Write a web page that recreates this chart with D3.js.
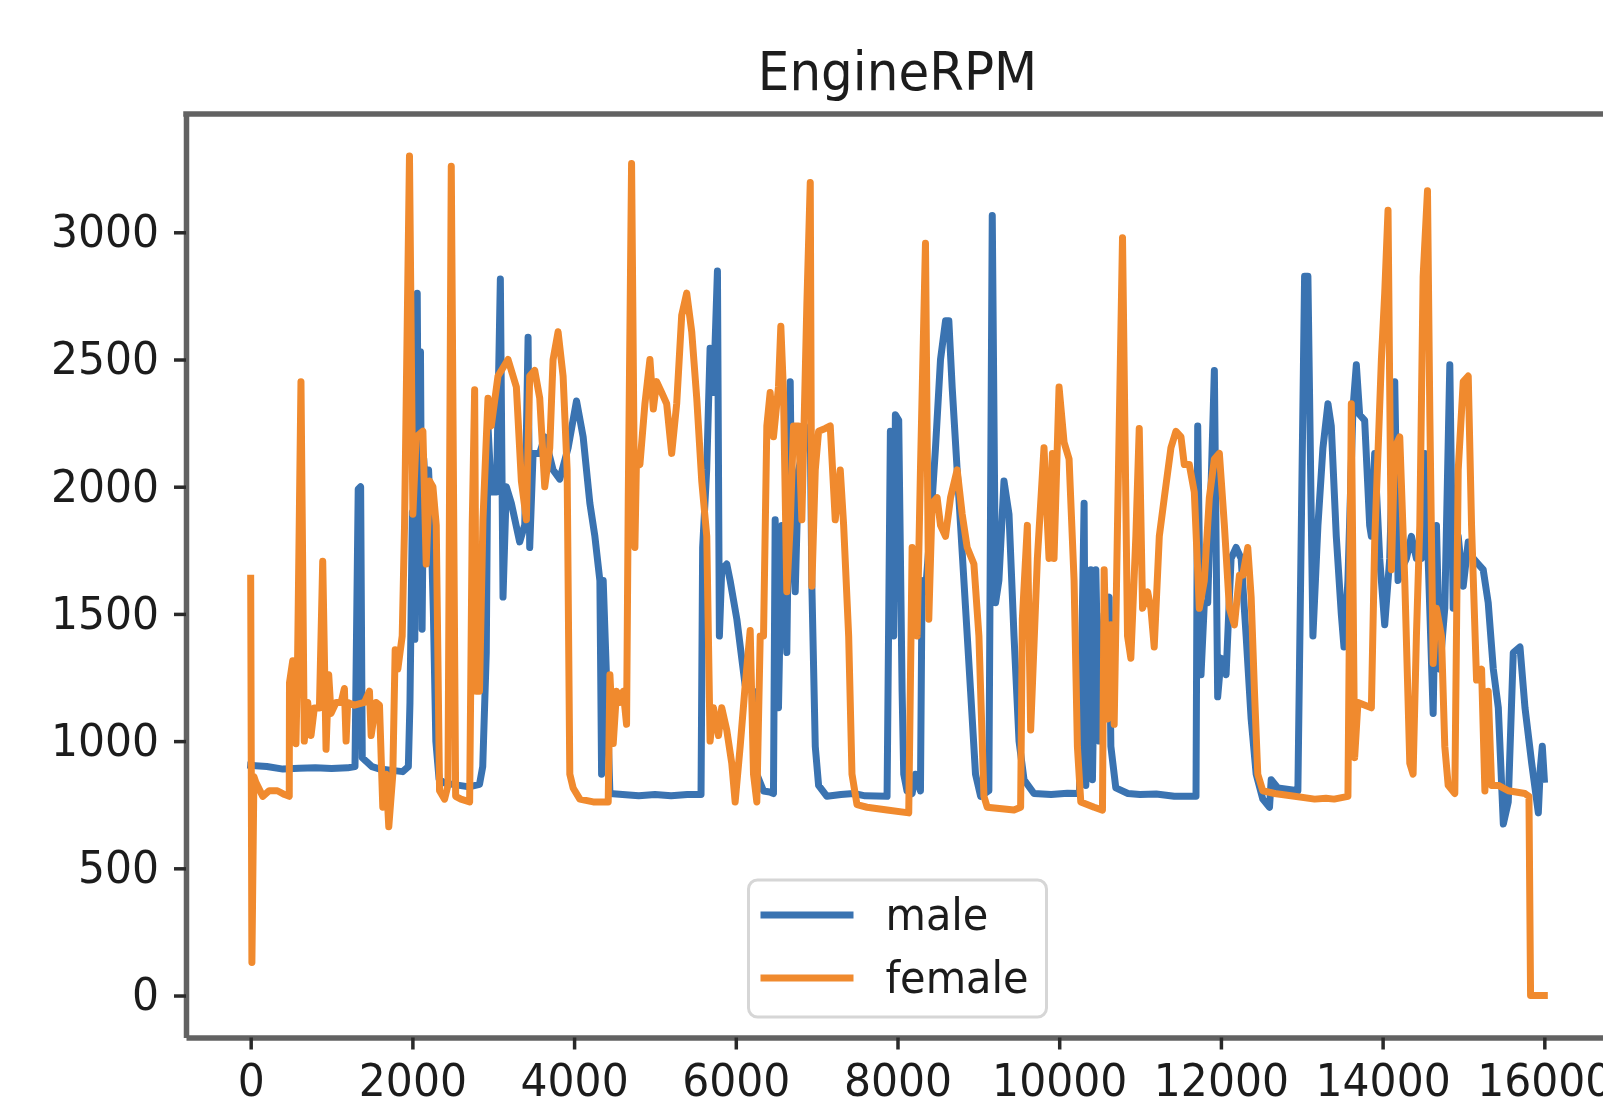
<!DOCTYPE html>
<html>
<head>
<meta charset="utf-8">
<script src="https://cdn.jsdelivr.net/npm/d3@7"></script>
<style>
    body { margin: 0; background: #fff; }
    svg { display: block; font-family: "DejaVu Sans", sans-serif; filter: blur(0.6px); }
</style>
</head>
<body>
<div id="chart"></div>
<script>
// [sample index, engine rpm]
var maleData = [
    [0,905],[200,900],[400,890],[600,893],[800,895],[1000,892],[1200,895],[1290,900],[1330,1990],[1360,2000],
    [1380,935],[1430,920],[1500,900],[1600,890],[1750,885],[1880,880],[1950,900],[1970,1150],[2000,1900],[2030,1400],
    [2060,2760],[2080,1700],[2100,2530],[2120,1440],[2140,2110],[2170,1950],[2200,2066],[2230,1850],[2260,1500],[2290,1000],
    [2330,850],[2400,835],[2500,830],[2600,825],[2700,820],[2830,830],[2870,900],[2914,1348],[2935,2239],[2976,1979],
    [3040,1979],[3088,2816],[3121,1566],[3162,2000],[3224,1935],[3327,1783],[3390,1850],[3431,2587],[3451,1761],[3493,2131],
    [3575,2131],[3637,2196],[3740,2066],[3823,2030],[3926,2153],[4030,2337],[4112,2196],[4195,1935],[4257,1805],[4319,1631],
    [4340,870],[4360,1631],[4400,1260],[4443,794],[4600,790],[4800,785],[5000,790],[5200,785],[5400,790],[5570,790],
    [5590,1761],[5640,2066],[5682,2544],[5724,2370],[5773,2848],[5797,1413],[5826,1674],[5888,1696],[5930,1631],[6013,1479],
    [6116,1218],[6220,1196],[6260,870],[6343,804],[6420,800],[6466,794],[6487,1870],[6528,1131],[6570,1848],[6631,1348],
    [6673,2413],[6693,1848],[6735,1587],[6776,2066],[6838,2153],[6921,2239],[6941,1609],[6983,979],[7024,826],[7127,783],
    [7300,790],[7458,794],[7600,785],[7871,783],[7912,2218],[7953,1413],[7974,2283],[8015,2261],[8057,1196],[8077,870],
    [8118,804],[8181,794],[8222,870],[8284,804],[8304,1631],[8346,1587],[8408,1848],[8470,2153],[8532,2500],[8594,2652],
    [8635,2652],[8676,2392],[8738,2066],[8780,1848],[8842,1522],[8904,1196],[8965,870],[9028,783],[9130,805],[9172,3066],
    [9213,1544],[9254,1631],[9317,2022],[9379,1892],[9441,1413],[9503,1000],[9565,848],[9688,794],[9900,790],[10100,795],
    [10250,794],[10308,1935],[10329,826],[10391,1674],[10411,848],[10453,1674],[10494,1000],[10556,1500],[10618,1566],[10639,979],
    [10700,816],[10850,794],[11000,790],[11200,792],[11423,783],[11692,783],[11713,2239],[11754,1261],[11795,1544],[11837,1544],
    [11919,2457],[11960,1174],[12002,1326],[12064,1261],[12126,1718],[12188,1761],[12250,1718],[12312,1413],[12374,1087],[12436,870],
    [12518,772],[12601,740],[12622,848],[12704,816],[12952,805],[13035,2827],[13076,2827],[13138,1413],[13200,1848],[13262,2153],
    [13324,2326],[13365,2239],[13427,1805],[13489,1500],[13522,1370],[13571,1631],[13633,2305],[13675,2479],[13716,2283],[13778,2261],
    [13840,1848],[13861,1805],[13902,2131],[13964,1718],[14026,1457],[14088,1718],[14150,2413],[14191,1631],[14232,1674],[14294,1718],
    [14356,1805],[14418,1718],[14480,1718],[14522,2131],[14563,1718],[14625,1109],[14666,1848],[14707,1283],[14769,1522],[14831,2479],
    [14873,1522],[14935,1805],[14997,1609],[15059,1783],[15121,1718],[15183,1696],[15244,1674],[15306,1544],[15369,1283],[15431,1131],
    [15493,674],[15554,761],[15616,1348],[15699,1370],[15761,1131],[15844,913],[15926,718],[15950,891],[15975,980],[16000,850]
];

var femaleData = [
    [0,1640],[15,130],[40,860],[64,838],[150,783],[230,805],[330,805],[420,790],[477,783],[480,1229],
    [520,1316],[560,990],[580,1316],[622,2413],[663,1000],[705,1152],[746,1022],[787,1130],[850,1130],[891,1707],
    [932,968],[965,1261],[994,1109],[1056,1152],[1118,1152],[1159,1207],[1180,1000],[1200,1152],[1283,1141],[1407,1152],
    [1469,1196],[1490,1022],[1551,1152],[1593,1141],[1634,740],[1675,870],[1708,663],[1758,870],[1787,1359],[1820,1283],
    [1874,1413],[1903,1848],[1964,3300],[2006,1892],[2047,2196],[2130,2218],[2171,1696],[2213,2022],[2254,2000],[2295,1848],
    [2336,805],[2398,772],[2440,826],[2481,3260],[2535,783],[2600,772],[2708,761],[2740,1848],[2770,2381],[2790,1196],
    [2830,1196],[2873,1870],[2935,2348],[2976,2239],[3059,2435],[3183,2500],[3286,2392],[3348,2022],[3410,1870],[3451,2435],
    [3513,2457],[3575,2348],[3637,2000],[3699,2153],[3740,2500],[3802,2609],[3864,2435],[3914,2066],[3947,870],[3988,816],
    [4071,772],[4236,761],[4422,761],[4443,1261],[4484,991],[4525,1196],[4567,1152],[4608,1196],[4649,1066],[4670,1957],
    [4711,3270],[4752,1761],[4773,2131],[4814,2087],[4876,2326],[4938,2500],[4980,2305],[5021,2413],[5083,2370],[5145,2326],
    [5207,2131],[5269,2326],[5331,2674],[5393,2761],[5455,2609],[5517,2348],[5579,2022],[5641,1805],[5682,1000],[5724,1131],
    [5786,1022],[5826,1131],[5888,1044],[5950,913],[5992,761],[6054,979],[6116,1218],[6178,1435],[6219,870],[6260,761],
    [6302,1413],[6343,1413],[6384,2239],[6425,2370],[6466,2196],[6528,2392],[6557,2631],[6590,2370],[6631,1587],[6673,1848],
    [6714,2239],[6776,2239],[6817,1870],[6879,2718],[6921,3196],[6941,1609],[6983,2066],[7024,2218],[7107,2229],[7168,2239],
    [7230,1870],[7292,2066],[7334,1848],[7396,1413],[7437,870],[7499,750],[7623,740],[7871,729],[8139,718],[8181,1761],
    [8243,1413],[8284,2066],[8346,2957],[8387,1479],[8428,1935],[8490,1957],[8532,1848],[8594,1805],[8656,1957],[8738,2066],
    [8800,1892],[8862,1761],[8945,1696],[9007,1413],[9069,783],[9110,740],[9441,729],[9523,740],[9544,1479],[9606,1848],
    [9647,1044],[9730,1718],[9812,2153],[9874,1718],[9916,2131],[9936,1718],[9998,2392],[10060,2175],[10122,2109],[10184,1631],
    [10225,979],[10267,761],[10432,740],[10535,729],[10556,1674],[10597,1087],[10639,1457],[10680,1066],[10721,1848],[10783,2979],
    [10845,1413],[10886,1326],[10948,1805],[10990,2229],[11031,1522],[11093,1587],[11134,1522],[11175,1370],[11238,1805],[11300,1957],
    [11382,2153],[11444,2218],[11506,2196],[11547,2087],[11609,2087],[11671,1979],[11733,1522],[11795,1631],[11857,1957],[11919,2109],
    [11981,2131],[12043,1848],[12105,1522],[12167,1457],[12229,1652],[12270,1652],[12332,1761],[12374,1566],[12415,1196],[12456,870],
    [12518,805],[12663,794],[12911,783],[13159,772],[13300,775],[13400,772],[13571,783],[13613,2326],[13654,935],[13695,1152],
    [13861,1131],[13902,1783],[13985,2500],[14026,2761],[14067,3087],[14109,1674],[14150,2153],[14212,2196],[14274,1631],[14336,913],
    [14377,870],[14418,1413],[14460,1848],[14501,2826],[14555,3163],[14584,2283],[14625,1305],[14666,1522],[14728,1413],[14769,979],
    [14811,826],[14893,794],[14935,2066],[14997,2413],[15059,2435],[15100,1848],[15162,1240],[15224,1283],[15265,804],[15306,1196],
    [15348,826],[15431,826],[15554,805],[15761,794],[15810,783],[15830,0],[16000,0]
];

var seriesNames = ["male", "female"];
var xTickValues = [0, 2000, 4000, 6000, 8000, 10000, 12000, 14000, 16000];
var yTickValues = [0, 500, 1000, 1500, 2000, 2500, 3000];

function init() {
    var w = 1603, h = 1104;
    // plot box in pixels (right spine falls just outside the picture)
    var box = { left: 186, right: 1609, top: 114, bottom: 1037.5 };
    var colors = ["#3a73b1", "#f08a2e"];
    var textColor = "#1c1c1c";
    var stretch = "scale(1,1.06)";

    var series = [maleData, femaleData];
    var all = maleData.concat(femaleData);

    // matplotlib style 5% margins on both axes
    var xExt = d3.extent(all, d => d[0]);
    var yExt = d3.extent(all, d => d[1]);
    var xPad = (xExt[1] - xExt[0]) * 0.05;
    var yPad = (yExt[1] - yExt[0]) * 0.05;

    var xScale = d3.scaleLinear()
        .domain([xExt[0] - xPad, xExt[1] + xPad])
        .range([box.left, box.right]);
    var yScale = d3.scaleLinear()
        .domain([yExt[0] - yPad, yExt[1] + yPad])
        .range([box.bottom, box.top]);

    var svg = d3.select("#chart").append("svg")
        .attr("width", w)
        .attr("height", h)
        .attr("viewBox", [0, 0, w, h]);

    svg.append("defs").append("clipPath").attr("id", "plot-clip")
        .append("rect")
        .attr("x", box.left).attr("y", box.top)
        .attr("width", box.right - box.left).attr("height", box.bottom - box.top);

    var line = d3.line()
        .x(d => xScale(d[0]))
        .y(d => yScale(d[1]));

    svg.append("g").attr("clip-path", "url(#plot-clip)")
        .selectAll("path")
        .data(series)
        .enter()
        .append("path")
        .attr("d", line)
        .attr("fill", "none")
        .attr("stroke", (d, i) => colors[i])
        .attr("stroke-width", 7)
        .attr("stroke-linejoin", "round")
        .attr("stroke-linecap", "square");

    // axes
    var yAxis = svg.append("g")
        .attr("transform", `translate(${box.left},0)`)
        .call(d3.axisLeft(yScale).tickValues(yTickValues).tickFormat(d3.format("d"))
            .tickSize(12).tickSizeOuter(0).tickPadding(15));
    var xAxis = svg.append("g")
        .attr("transform", `translate(0,${box.bottom})`)
        .call(d3.axisBottom(xScale).tickValues(xTickValues).tickFormat(d3.format("d"))
            .tickSize(12).tickSizeOuter(0).tickPadding(13));

    [xAxis, yAxis].forEach(function(ax) {
        ax.select(".domain").attr("stroke", "#626262").attr("stroke-width", 5.5);
        ax.selectAll(".tick line").attr("stroke", "#2a2a2a").attr("stroke-width", 3.5);
        ax.selectAll(".tick text")
            .attr("fill", textColor)
            .style("font-size", "42.5px")
            .style("font-family", "'DejaVu Sans', sans-serif")
            .attr("transform", stretch);
    });

    // top spine
    svg.append("line")
        .attr("x1", box.left - 2.75).attr("x2", box.right)
        .attr("y1", box.top).attr("y2", box.top)
        .attr("stroke", "#626262").attr("stroke-width", 5.5);

    // title
    svg.append("g")
        .attr("transform", `translate(${(box.left + box.right) / 2},90)`)
        .append("text")
        .attr("text-anchor", "middle")
        .attr("transform", "scale(1,1.08)")
        .attr("fill", textColor)
        .style("font-size", "50px")
        .text("EngineRPM");

    // legend
    var legend = svg.append("g").attr("transform", "translate(748.5,880)");
    legend.append("rect")
        .attr("width", 298).attr("height", 137)
        .attr("rx", 9).attr("ry", 9)
        .attr("fill", "#fff").attr("fill-opacity", 0.8)
        .attr("stroke", "#d6d6d6").attr("stroke-width", 3);

    var items = legend.selectAll(".item")
        .data(seriesNames)
        .enter()
        .append("g")
        .attr("class", "item")
        .attr("transform", (d, i) => `translate(0,${35 + i * 63})`);
    items.append("line")
        .attr("x1", 12).attr("x2", 105)
        .attr("stroke", (d, i) => colors[i])
        .attr("stroke-width", 7);
    items.append("g")
        .attr("transform", "translate(137,15)")
        .append("text")
        .attr("transform", stretch)
        .attr("fill", textColor)
        .style("font-size", "41.5px")
        .text(d => d);
}

window.onload = init;
</script>
</body>
</html>
